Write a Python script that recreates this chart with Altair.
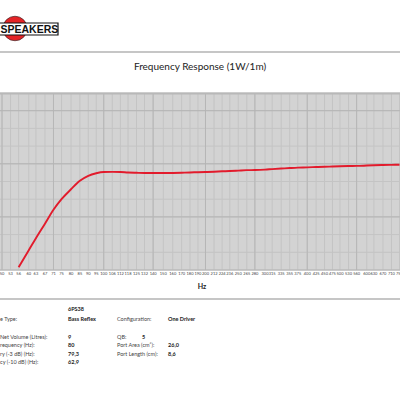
import altair as alt
import pandas as pd

# ---- data ----
freqs = [50, 53, 56, 60, 63, 67, 71, 75, 80, 85, 90, 95, 100, 106, 112, 118, 125,
         132, 140, 150, 160, 170, 180, 190, 200, 212, 224, 236, 250, 265, 280, 300,
         315, 335, 355, 375, 400, 425, 450, 475, 500, 530, 560, 600, 630, 670, 710, 750]
major_freqs = [50, 71, 100, 140, 200, 280, 400, 560]
curve_freqs = freqs[2:]
spl_db = [75.4, 77.8, 79.5, 81.55, 83.5, 85.0, 86.4, 87.6, 88.3, 88.66, 88.84, 88.86,
          88.84, 88.77, 88.73, 88.7, 88.7, 88.7, 88.71, 88.74, 88.78, 88.81, 88.84,
          88.88, 88.94, 88.98, 89.04, 89.1, 89.12, 89.18, 89.25, 89.33, 89.4, 89.46,
          89.5, 89.55, 89.58, 89.62, 89.66, 89.69, 89.70, 89.75, 89.79, 89.83, 89.85, 89.87]
grid_db = [75, 77.5, 80, 82.5, 85, 87.5, 90, 92.5, 95, 97.5, 100]
major_db = [75, 82.5, 90, 97.5]

title = "Frequency Response (1W/1m)"
x_title = "Hz"
logo_text = "SPEAKERS"
model = "6PS38"
left_labels = ["e Type:", "Net Volume (Litres):", "requency (Hz):", "ry (-3 dB) (Hz):", "cy (-10 dB) (Hz):"]
left_values = ["Bass Reflex", "9", "80", "79,3", "62,9"]
right_labels = ["Configuration:", "QB:", "Port Area (cm²):", "Port Length (cm):"]
right_values = ["One Driver", "5", "26,0", "8,6"]

# ---- scales ----
xs = alt.Scale(type="log", domain=[50, 750], range=[2, 399.5], nice=False, zero=False)
ys = alt.Scale(domain=[75, 100], range=[270, 93], nice=False, zero=False)

FONT = "Lato"


def one():
    return alt.Data(values=[{"k": 1}])


def txt(s, x, y, size=5.5, color="#333333", weight="normal", align="left", font=FONT):
    return alt.Chart(one()).mark_text(
        fontSize=size, color=color, fontWeight=weight, align=align,
        baseline="middle", font=font
    ).encode(x=alt.value(x), y=alt.value(y), text=alt.value(s))


def hline(y, color, width):
    return alt.Chart(one()).mark_rule(color=color, strokeWidth=width).encode(
        x=alt.value(0), x2=alt.value(400), y=alt.value(y))


freq_df = pd.DataFrame({"f": freqs, "lbl": [str(f) for f in freqs]})
major_f_df = pd.DataFrame({"f": major_freqs})
grid_df = pd.DataFrame({"db": grid_db})
major_db_df = pd.DataFrame({"db": major_db})
curve_df = pd.DataFrame({"f": curve_freqs, "db": spl_db})

plot_bg = alt.Chart(one()).mark_rect(color="#d3d3d3").encode(
    x=alt.value(0), x2=alt.value(400), y=alt.value(93), y2=alt.value(270))

vgrid = alt.Chart(freq_df).mark_rule(color="#c4c4c4", strokeWidth=1).encode(
    x=alt.X("f:Q", scale=xs, axis=None), y=alt.value(93), y2=alt.value(270))
vgrid_major = alt.Chart(major_f_df).mark_rule(color="#b6b6b6", strokeWidth=1).encode(
    x=alt.X("f:Q", scale=xs, axis=None), y=alt.value(93), y2=alt.value(270))
hgrid = alt.Chart(grid_df).mark_rule(color="#c4c4c4", strokeWidth=1).encode(
    y=alt.Y("db:Q", scale=ys, axis=None), x=alt.value(0), x2=alt.value(400))
hgrid_major = alt.Chart(major_db_df).mark_rule(color="#b4b4b4", strokeWidth=1).encode(
    y=alt.Y("db:Q", scale=ys, axis=None), x=alt.value(0), x2=alt.value(400))

curve = alt.Chart(curve_df).mark_line(color="#e21b2c", strokeWidth=1.9,
                                      interpolate="monotone").encode(
    x=alt.X("f:Q", scale=xs, axis=None), y=alt.Y("db:Q", scale=ys, axis=None))

xlabels = alt.Chart(freq_df).mark_text(fontSize=4, color="#444444", font=FONT,
                                       baseline="middle").encode(
    x=alt.X("f:Q", scale=xs, axis=None), y=alt.value(274), text="lbl:N")

# logo
logo_circle = alt.Chart(one()).mark_point(filled=True, shape="circle", size=600,
                                          color="#e42427", opacity=1,
                                          stroke="#222222", strokeWidth=0.6).encode(
    x=alt.value(15), y=alt.value(28.5))
logo_box = alt.Chart(one()).mark_rect(fill="white", stroke="#111111", strokeWidth=1.2).encode(
    x=alt.value(-2), x2=alt.value(58), y=alt.value(23), y2=alt.value(35))
logo_txt = txt(logo_text, 0.5, 29.5, size=10.5, color="#111111", weight="bold",
               font="Liberation Sans")

layers = [
    logo_circle, logo_box, logo_txt,
    hline(52, "#c6c6c6", 2),
    txt(title, 200, 67, size=10, color="#222222", align="center"),
    plot_bg, vgrid, hgrid, vgrid_major, hgrid_major,
    hline(93.5, "#b8b8b8", 2),
    curve, xlabels,
    txt(x_title, 202, 287, size=7, color="#222222", align="center", weight="bold"),
    hline(299, "#c6c6c6", 2),
    txt(model, 68, 309, color="#222222", weight="bold"),
]

left_y = [319, 336.5, 345, 353.5, 362]
right_y = [319, 336.5, 345, 353.5]
for lab, val, y in zip(left_labels, left_values, left_y):
    layers.append(txt(lab, 0, y, color="#444444"))
    layers.append(txt(val, 68, y, color="#222222", weight="bold"))
right_val_x = [168, 142, 168, 168]
for lab, val, y, vx in zip(right_labels, right_values, right_y, right_val_x):
    layers.append(txt(lab, 117, y, color="#444444"))
    layers.append(txt(val, vx, y, color="#222222", weight="bold"))

chart = alt.layer(*layers).properties(
    width=400, height=400,
    autosize=alt.AutoSizeParams(type="none"),
    padding=0, background="white"
).configure_view(stroke=None)

chart.save("out.html", embed_options={"renderer": "svg", "actions": False})
